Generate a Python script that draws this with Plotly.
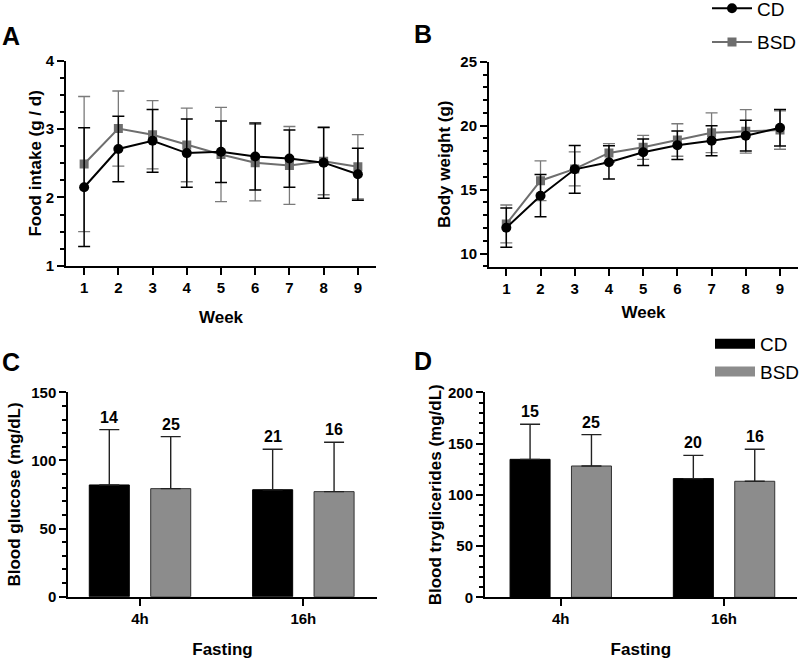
import plotly.graph_objects as go

# ---------------- data ----------------
weeks = [1, 2, 3, 4, 5, 6, 7, 8, 9]

food_cd = [2.15, 2.71, 2.83, 2.65, 2.67, 2.60, 2.57, 2.51, 2.34]
food_cd_sd = [0.87, 0.48, 0.46, 0.50, 0.45, 0.49, 0.42, 0.52, 0.38]
food_bsd = [2.49, 3.01, 2.92, 2.77, 2.63, 2.51, 2.47, 2.53, 2.45]
food_bsd_sd = [0.99, 0.55, 0.50, 0.54, 0.69, 0.56, 0.57, 0.49, 0.47]

bw_cd = [12.03, 14.53, 16.59, 17.14, 17.92, 18.47, 18.83, 19.22, 19.84]
bw_cd_sd = [1.53, 1.65, 1.87, 1.30, 1.04, 1.12, 1.17, 1.20, 1.42]
bw_bsd = [12.32, 15.70, 16.62, 17.87, 18.31, 18.88, 19.45, 19.56, 19.66]
bw_bsd_sd = [1.48, 1.55, 1.33, 0.73, 0.94, 1.27, 1.55, 1.70, 1.50]

fasting = ["4h", "16h"]
group_pos = [0, 1]

glu_cd = [82.0, 78.5]
glu_cd_sd = [40.6, 29.7]
glu_cd_n = [14, 21]
glu_bsd = [79.3, 77.1]
glu_bsd_sd = [38.2, 36.2]
glu_bsd_n = [25, 16]

tg_cd = [134.6, 115.8]
tg_cd_sd = [34.2, 22.7]
tg_cd_n = [15, 20]
tg_bsd = [128.1, 113.2]
tg_bsd_sd = [30.6, 31.2]
tg_bsd_n = [25, 16]

# ---------------- style ----------------
FONT = "Liberation Sans, Arial, sans-serif"
BLACK = "#000000"
GRAY_LINE = "#6e6e6e"
GRAY_ERR = "#7a7a7a"
GRAY_BAR = "#8c8c8c"
BAR_OFFSET = 0.188
BAR_WIDTH = 0.245

fig = go.Figure()

# ---------- Panel A ----------
fig.add_trace(go.Scatter(
    x=weeks, y=food_bsd, mode="lines+markers", name="BSD",
    legendgroup="BSDl", legendrank=2, legend="legend",
    line=dict(color=GRAY_LINE, width=2),
    marker=dict(symbol="square", size=9, color=GRAY_LINE),
    error_y=dict(type="data", array=food_bsd_sd, color=GRAY_ERR, thickness=1.3, width=6),
    xaxis="x", yaxis="y"))
fig.add_trace(go.Scatter(
    x=weeks, y=food_cd, mode="lines+markers", name="CD",
    legendgroup="CDl", legendrank=1, legend="legend",
    line=dict(color=BLACK, width=2),
    marker=dict(symbol="circle", size=10, color=BLACK),
    error_y=dict(type="data", array=food_cd_sd, color=BLACK, thickness=1.5, width=6),
    xaxis="x", yaxis="y"))

# ---------- Panel B ----------
fig.add_trace(go.Scatter(
    x=weeks, y=bw_bsd, mode="lines+markers", name="BSD", showlegend=False,
    legendgroup="BSDl",
    line=dict(color=GRAY_LINE, width=2),
    marker=dict(symbol="square", size=9, color=GRAY_LINE),
    error_y=dict(type="data", array=bw_bsd_sd, color=GRAY_ERR, thickness=1.3, width=6),
    xaxis="x2", yaxis="y2"))
fig.add_trace(go.Scatter(
    x=weeks, y=bw_cd, mode="lines+markers", name="CD", showlegend=False,
    legendgroup="CDl",
    line=dict(color=BLACK, width=2),
    marker=dict(symbol="circle", size=10, color=BLACK),
    error_y=dict(type="data", array=bw_cd_sd, color=BLACK, thickness=1.5, width=6),
    xaxis="x2", yaxis="y2"))

# ---------- Panels C & D (bars) ----------
def add_bars(cd, cd_sd, bsd, bsd_sd, xa, ya):
    x_cd = [p - BAR_OFFSET for p in group_pos]
    x_bsd = [p + BAR_OFFSET for p in group_pos]
    fig.add_trace(go.Bar(
        x=x_cd, y=cd, width=BAR_WIDTH, name="CD", showlegend=False,
        legendgroup="CDb",
        marker=dict(color=BLACK, line=dict(color=BLACK, width=1)),
        error_y=dict(type="data", array=cd_sd, arrayminus=[0] * len(cd_sd), symmetric=False,
                     color="#222222", thickness=1.4, width=10),
        xaxis=xa, yaxis=ya))
    fig.add_trace(go.Bar(
        x=x_bsd, y=bsd, width=BAR_WIDTH, name="BSD", showlegend=False,
        legendgroup="BSDb",
        marker=dict(color=GRAY_BAR, line=dict(color="#333333", width=1)),
        error_y=dict(type="data", array=bsd_sd, arrayminus=[0] * len(bsd_sd), symmetric=False,
                     color="#222222", thickness=1.4, width=10),
        xaxis=xa, yaxis=ya))
    return x_cd, x_bsd

gx_cd, gx_bsd = add_bars(glu_cd, glu_cd_sd, glu_bsd, glu_bsd_sd, "x3", "y3")
tx_cd, tx_bsd = add_bars(tg_cd, tg_cd_sd, tg_bsd, tg_bsd_sd, "x4", "y4")

# legend-only entries for the bar legend
fig.add_trace(go.Scatter(x=[None], y=[None], mode="lines", name="CD", legend="legend2",
                         legendgroup="CDb", legendrank=1,
                         line=dict(color=BLACK, width=11), xaxis="x4", yaxis="y4"))
fig.add_trace(go.Scatter(x=[None], y=[None], mode="lines", name="BSD", legend="legend2",
                         legendgroup="BSDb", legendrank=2,
                         line=dict(color=GRAY_BAR, width=11), xaxis="x4", yaxis="y4"))

# ---------- annotations ----------
annotations = []
def n_labels(xs, means, sds, ns, xa, ya):
    for x, m, s, n in zip(xs, means, sds, ns):
        annotations.append(dict(x=x, y=m + s, xref=xa, yref=ya, text=str(n), showarrow=False,
                                yanchor="bottom", yshift=2,
                                font=dict(family=FONT, size=16, color=BLACK, weight="bold")))

n_labels(gx_cd, glu_cd, glu_cd_sd, glu_cd_n, "x3", "y3")
n_labels(gx_bsd, glu_bsd, glu_bsd_sd, glu_bsd_n, "x3", "y3")
n_labels(tx_cd, tg_cd, tg_cd_sd, tg_cd_n, "x4", "y4")
n_labels(tx_bsd, tg_bsd, tg_bsd_sd, tg_bsd_n, "x4", "y4")

W, H = 800, 661
for letter, px, py in [("A", 11, 36), ("B", 423, 34), ("C", 11, 362), ("D", 423, 361)]:
    annotations.append(dict(x=px / W, y=1 - py / H, xref="paper", yref="paper", text=letter,
                            showarrow=False, xanchor="center", yanchor="middle",
                            font=dict(family=FONT, size=25, color=BLACK, weight="bold")))

# ---------- axes ----------
tickfont = dict(family=FONT, size=15, color=BLACK, weight="bold")
titlefont = dict(family=FONT, size=17, color=BLACK, weight="bold")

def xax(domain, rng, anchor, title, standoff, tickvals, ticktext=None):
    d = dict(domain=domain, range=rng, anchor=anchor, showgrid=False, zeroline=False,
             showline=True, linecolor=BLACK, linewidth=2,
             ticks="outside", ticklen=7, tickwidth=2, tickcolor=BLACK,
             tickvals=tickvals, tickfont=tickfont,
             title=dict(text=title, font=titlefont, standoff=standoff))
    if ticktext is not None:
        d["ticktext"] = ticktext
    return d

def yax(domain, rng, anchor, title, standoff, dtick, minor):
    return dict(domain=domain, range=rng, anchor=anchor, showgrid=False, zeroline=False,
                showline=True, linecolor=BLACK, linewidth=2,
                ticks="outside", ticklen=7, tickwidth=2, tickcolor=BLACK,
                tick0=0, dtick=dtick, tickfont=tickfont,
                minor=dict(dtick=minor, ticks="outside", ticklen=4, tickwidth=2,
                           tickcolor=BLACK, showgrid=False),
                title=dict(text=title, font=titlefont, standoff=standoff))

fig.update_layout(
    width=W, height=H,
    margin=dict(l=0, r=0, t=0, b=0, autoexpand=False),
    paper_bgcolor="white", plot_bgcolor="white",
    font=dict(family=FONT, color=BLACK),
    barmode="overlay",
    xaxis=xax([66 / W, 376 / W], [0.47, 9.53], "y", "Week", 16, weeks),
    yaxis=yax([1 - 265.7 / H, 1 - 61 / H], [1, 4], "x", "Food intake (g / d)", 0, 1, 0.25),
    xaxis2=xax([489 / W, 798 / W], [0.494, 9.526], "y2", "Week", 10, weeks),
    yaxis2=yax([1 - 266.7 / H, 1 - 61.7 / H], [8.98, 25], "x2", "Body weight (g)", 5, 5, 1),
    xaxis3=xax([68.3 / W, 376.7 / W], [-0.439, 1.449], "y3", "Fasting", 17, group_pos, fasting),
    yaxis3=yax([1 - 596.7 / H, 1 - 392.3 / H], [0, 150], "x3", "Blood glucose (mg/dL)", 6, 50, 10),
    xaxis4=xax([485 / W, 796.7 / W], [-0.464, 1.445], "y4", "Fasting", 17, group_pos, fasting),
    yaxis4=yax([1 - 597.3 / H, 1 - 392.3 / H], [0, 200], "x4", "Blood tryglicerides (mg/dL)", 2, 50, 10),
    legend=dict(x=707 / W, y=1.016, xanchor="left", yanchor="top", orientation="v",
                font=dict(family=FONT, size=19, color=BLACK), itemwidth=40,
                tracegroupgap=6, bgcolor="rgba(0,0,0,0)", traceorder="grouped"),
    legend2=dict(x=710 / W, y=1 - 325 / H, xanchor="left", yanchor="top", orientation="v",
                 font=dict(family=FONT, size=19, color=BLACK), itemwidth=40,
                 tracegroupgap=0, bgcolor="rgba(0,0,0,0)", traceorder="grouped"),
    annotations=annotations,
)

fig.write_html("out.html", config={"displayModeBar": False},
               post_script="document.body.style.margin='0';document.body.style.overflow='hidden';")
